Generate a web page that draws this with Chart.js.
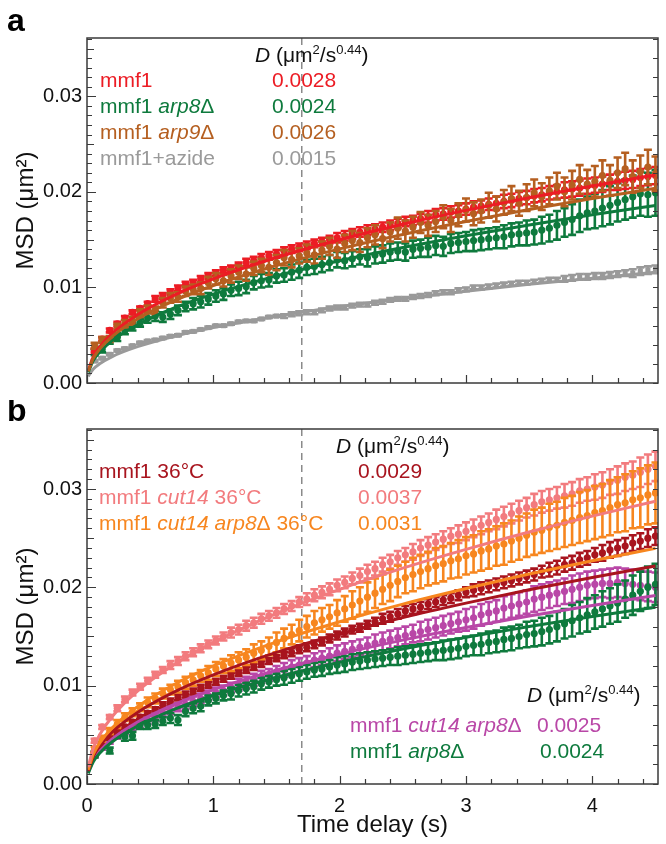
<!DOCTYPE html>
<html>
<head>
<meta charset="utf-8">
<script src="https://cdn.jsdelivr.net/npm/chart.js@4.4.1/dist/chart.umd.min.js"></script>
<style>
  html, body { margin: 0; padding: 0; background: #fff; }
  #wrap { position: relative; width: 666px; height: 844px; }
  canvas { position: absolute; left: 0; }
  #chartA { top: 0; }
  #chartB { top: 400px; }
</style>
</head>
<body>
<div id="wrap">
  <canvas id="chartA" width="666" height="400"></canvas>
  <canvas id="chartB" width="666" height="444"></canvas>
</div>
<script>
const FONT = "'Liberation Sans', Arial, sans-serif";

// Time delays (s) of the MSD points
const TIMES = [
  0.06, 0.12, 0.18, 0.24, 0.30, 0.36, 0.42, 0.48, 0.54, 0.60, 0.66, 0.72, 0.78, 0.84, 0.90,
  0.96, 1.02, 1.08, 1.14, 1.20, 1.26, 1.32, 1.38, 1.44, 1.50, 1.56, 1.62, 1.68, 1.74, 1.80,
  1.86, 1.92, 1.98, 2.04, 2.10, 2.16, 2.22, 2.28, 2.34, 2.40, 2.46, 2.52, 2.58, 2.64, 2.70,
  2.76, 2.82, 2.88, 2.94, 3.00, 3.06, 3.12, 3.18, 3.24, 3.30, 3.36, 3.42, 3.48, 3.54, 3.60,
  3.66, 3.72, 3.78, 3.84, 3.90, 3.96, 4.02, 4.08, 4.14, 4.20, 4.26, 4.32, 4.38, 4.44, 4.50
];
// Times at which the fitted curves are listed
const FIT_TIMES = [0.01, 0.05, 0.1, 0.2, 0.4, 0.7, 1, 1.5, 2, 2.5, 3, 3.5, 4, 4.5];
// Labelled ticks
const X_TICKS = [0, 1, 2, 3, 4];
const Y_TICKS = [0, 0.01, 0.02, 0.03];

// ---- panel a, MSD in 10^-3 um^2 ----
const MMF1 = [
  3.4, 4.6, 5.5, 6.2, 6.8, 7.4, 7.8, 8.3, 8.8, 9.1, 9.5, 9.9, 10.3, 10.5, 10.9,
  11.2, 11.5, 11.8, 12.0, 12.3, 12.6, 12.8, 13.1, 13.3, 13.5, 13.8, 14.0, 14.2, 14.4, 14.6,
  14.8, 15.0, 15.2, 15.4, 15.6, 15.8, 16.0, 16.1, 16.3, 16.5, 16.7, 16.9, 17.0, 17.2, 17.4,
  17.6, 17.7, 17.9, 18.0, 18.2, 18.4, 18.5, 18.7, 18.8, 19.0, 19.1, 19.3, 19.4, 19.6, 19.7,
  19.9, 20.0, 20.2, 20.3, 20.4, 20.6, 20.7, 20.8, 21.0, 21.1, 21.2, 21.3, 21.5, 21.6, 21.7
];
const MMF1_ERR = [
  0.2, 0.2, 0.2, 0.2, 0.2, 0.2, 0.2, 0.2, 0.3, 0.3, 0.3, 0.3, 0.3, 0.3, 0.3,
  0.3, 0.3, 0.3, 0.3, 0.3, 0.4, 0.4, 0.4, 0.4, 0.4, 0.4, 0.4, 0.4, 0.4, 0.4,
  0.4, 0.4, 0.5, 0.5, 0.5, 0.5, 0.5, 0.5, 0.5, 0.5, 0.5, 0.5, 0.5, 0.5, 0.6,
  0.6, 0.6, 0.6, 0.6, 0.6, 0.6, 0.6, 0.6, 0.7, 0.7, 0.7, 0.7, 0.7, 0.7, 0.7,
  0.7, 0.7, 0.8, 0.8, 0.8, 0.8, 0.8, 0.8, 0.8, 0.9, 0.9, 0.9, 0.9, 0.9, 0.9
];
const ARP8 = [
  3.2, 3.5, 4.4, 4.8, 5.5, 5.9, 6.3, 6.8, 7.0, 6.9, 7.2, 7.6, 8.0, 8.3, 8.5,
  8.8, 9.1, 9.3, 9.7, 9.9, 10.1, 10.5, 10.7, 10.8, 11.2, 11.3, 11.6, 11.8, 12.1, 12.2,
  12.4, 12.6, 12.9, 12.8, 13.0, 13.2, 13.1, 13.4, 13.5, 13.7, 13.8, 13.7, 14.0, 14.1, 14.2,
  14.4, 14.3, 14.6, 14.7, 14.8, 14.9, 15.0, 15.1, 15.2, 15.3, 15.5, 15.6, 15.7, 15.8, 16.0,
  16.2, 16.5, 16.8, 17.1, 17.5, 17.8, 18.0, 18.3, 18.6, 18.9, 19.2, 19.5, 19.8, 19.7, 19.9
];
const ARP8_ERR = [
  0.3, 0.3, 0.3, 0.4, 0.4, 0.4, 0.4, 0.5, 0.5, 0.5, 0.5, 0.5, 0.5, 0.6, 0.6,
  0.6, 0.6, 0.6, 0.6, 0.7, 0.7, 0.7, 0.7, 0.7, 0.7, 0.7, 0.8, 0.8, 0.8, 0.8,
  0.8, 0.8, 0.8, 0.8, 0.8, 0.8, 0.9, 0.9, 0.9, 0.9, 0.9, 0.9, 0.9, 0.9, 1.0,
  1.0, 1.0, 1.0, 1.0, 1.0, 1.1, 1.1, 1.1, 1.1, 1.2, 1.2, 1.2, 1.3, 1.3, 1.4,
  1.4, 1.5, 1.5, 1.6, 1.7, 1.7, 1.8, 1.9, 2.0, 2.0, 2.1, 2.2, 2.3, 2.3, 2.4
];
const ARP9 = [
  3.9, 4.5, 4.6, 5.9, 6.2, 6.5, 7.3, 7.7, 7.6, 8.4, 8.9, 9.0, 9.6, 9.8, 9.9,
  10.5, 10.9, 10.7, 11.2, 11.6, 11.4, 12.0, 12.3, 12.1, 12.6, 13.1, 12.9, 13.3, 13.6, 13.4,
  13.9, 14.3, 14.0, 14.6, 14.9, 14.7, 15.2, 15.5, 15.1, 15.8, 16.2, 15.9, 16.3, 16.8, 16.5,
  16.9, 17.4, 17.0, 17.6, 18.1, 17.7, 18.0, 18.6, 18.2, 18.9, 19.3, 18.8, 19.4, 19.9, 19.5,
  20.1, 20.6, 20.0, 20.7, 21.3, 20.8, 21.1, 21.7, 21.2, 22.0, 22.4, 21.6, 22.1, 22.6, 21.9
];
const ARP9_ERR = [
  0.3, 0.3, 0.3, 0.3, 0.4, 0.4, 0.4, 0.4, 0.4, 0.5, 0.5, 0.5, 0.5, 0.5, 0.6,
  0.6, 0.6, 0.6, 0.7, 0.7, 0.7, 0.7, 0.7, 0.8, 0.8, 0.8, 0.8, 0.8, 0.9, 0.9,
  0.9, 0.9, 0.9, 0.9, 1.0, 1.0, 1.0, 1.0, 1.0, 1.0, 1.1, 1.1, 1.1, 1.1, 1.1,
  1.1, 1.2, 1.2, 1.2, 1.2, 1.2, 1.2, 1.3, 1.3, 1.3, 1.3, 1.3, 1.4, 1.4, 1.4,
  1.4, 1.4, 1.5, 1.5, 1.5, 1.5, 1.6, 1.6, 1.6, 1.6, 1.7, 1.7, 1.7, 1.8, 1.8
];
const AZIDE = [
  2.3, 2.6, 3.0, 3.4, 3.6, 3.9, 4.2, 4.4, 4.5, 4.7, 4.9, 5.0, 5.3, 5.4, 5.6,
  5.8, 6.0, 6.0, 6.2, 6.4, 6.5, 6.5, 6.7, 6.9, 7.0, 7.0, 7.2, 7.3, 7.4, 7.4,
  7.6, 7.8, 7.9, 7.9, 8.1, 8.2, 8.2, 8.4, 8.5, 8.7, 8.8, 8.8, 9.0, 9.1, 9.2,
  9.4, 9.5, 9.5, 9.7, 9.8, 10.0, 10.0, 10.1, 10.2, 10.3, 10.4, 10.5, 10.5, 10.6, 10.7,
  10.8, 10.8, 10.9, 11.0, 11.1, 11.1, 11.2, 11.2, 11.3, 11.4, 11.5, 11.5, 11.7, 11.8, 11.9
];
const AZIDE_ERR = [
  0.1, 0.1, 0.1, 0.1, 0.1, 0.1, 0.1, 0.1, 0.1, 0.1, 0.1, 0.1, 0.1, 0.1, 0.1,
  0.1, 0.1, 0.1, 0.1, 0.1, 0.1, 0.1, 0.1, 0.1, 0.1, 0.2, 0.2, 0.2, 0.2, 0.2,
  0.2, 0.2, 0.2, 0.2, 0.2, 0.2, 0.2, 0.2, 0.2, 0.2, 0.2, 0.2, 0.2, 0.2, 0.2,
  0.2, 0.2, 0.2, 0.2, 0.2, 0.2, 0.2, 0.2, 0.2, 0.2, 0.2, 0.2, 0.2, 0.2, 0.2,
  0.2, 0.2, 0.3, 0.3, 0.3, 0.3, 0.3, 0.3, 0.3, 0.3, 0.3, 0.4, 0.4, 0.4, 0.4
];
const MMF1_FIT = [1.31, 2.75, 3.78, 5.2, 7.15, 9.25, 10.9, 13.13, 14.99, 16.61, 18.06, 19.39, 20.62, 21.77];
const ARP8_FIT = [1.12, 2.34, 3.23, 4.44, 6.1, 7.9, 9.3, 11.21, 12.79, 14.17, 15.41, 16.54, 17.6, 18.57];
const ARP9_FIT = [1.22, 2.57, 3.54, 4.87, 6.69, 8.66, 10.2, 12.29, 14.03, 15.54, 16.9, 18.15, 19.3, 20.37];
const AZIDE_FIT = [0.7, 1.46, 2.01, 2.77, 3.8, 4.92, 5.8, 6.99, 7.98, 8.84, 9.61, 10.32, 10.97, 11.58];

// ---- panel b, MSD in 10^-3 um^2 ----
const MMF1_36 = [
  3.0, 4.0, 4.7, 5.3, 5.8, 6.3, 6.8, 7.2, 7.6, 8.0, 8.4, 8.8, 9.1, 9.4, 9.8,
  10.1, 10.4, 10.7, 11.0, 11.3, 11.6, 11.9, 12.2, 12.5, 12.8, 13.1, 13.4, 13.7, 13.9, 14.2,
  14.5, 14.8, 15.1, 15.4, 15.7, 15.9, 16.2, 16.5, 16.8, 17.0, 17.3, 17.6, 17.8, 18.0, 18.3,
  18.5, 18.7, 18.9, 19.2, 19.5, 19.7, 19.9, 20.1, 20.3, 20.5, 20.7, 20.9, 21.1, 21.3, 21.6,
  21.8, 22.0, 22.3, 22.5, 22.8, 23.0, 23.3, 23.5, 23.8, 24.0, 24.2, 24.5, 24.7, 25.0, 25.2
];
const MMF1_36_ERR = [
  0.2, 0.2, 0.2, 0.2, 0.2, 0.2, 0.2, 0.2, 0.2, 0.3, 0.3, 0.3, 0.3, 0.3, 0.3,
  0.3, 0.3, 0.3, 0.3, 0.3, 0.3, 0.3, 0.3, 0.3, 0.3, 0.3, 0.4, 0.4, 0.4, 0.4,
  0.4, 0.4, 0.4, 0.4, 0.4, 0.4, 0.4, 0.4, 0.5, 0.5, 0.5, 0.5, 0.5, 0.5, 0.5,
  0.5, 0.5, 0.5, 0.5, 0.5, 0.6, 0.6, 0.6, 0.6, 0.6, 0.6, 0.6, 0.6, 0.6, 0.6,
  0.7, 0.7, 0.7, 0.7, 0.7, 0.7, 0.7, 0.8, 0.8, 0.8, 0.8, 0.8, 0.8, 0.9, 0.9
];
const CUT14 = [
  4.4, 5.8, 6.8, 7.7, 8.6, 9.3, 9.9, 10.5, 11.1, 11.6, 12.1, 12.5, 13.0, 13.4, 13.8,
  14.2, 14.6, 15.0, 15.4, 15.7, 16.1, 16.4, 16.8, 17.1, 17.4, 17.8, 18.1, 18.5, 18.8, 19.2,
  19.5, 19.8, 20.2, 20.5, 20.9, 21.2, 21.6, 21.9, 22.3, 22.6, 23.0, 23.3, 23.6, 24.0, 24.3,
  24.6, 24.9, 25.2, 25.4, 25.7, 26.0, 26.3, 26.6, 26.9, 27.2, 27.5, 27.8, 28.1, 28.4, 28.7,
  28.9, 29.1, 29.3, 29.5, 29.8, 30.0, 30.2, 30.4, 30.7, 30.9, 31.2, 31.4, 31.7, 32.0, 32.3
];
const CUT14_ERR = [
  0.2, 0.2, 0.2, 0.3, 0.3, 0.3, 0.3, 0.3, 0.3, 0.3, 0.4, 0.4, 0.4, 0.4, 0.4,
  0.4, 0.4, 0.4, 0.5, 0.5, 0.5, 0.5, 0.5, 0.5, 0.5, 0.5, 0.5, 0.5, 0.6, 0.6,
  0.6, 0.6, 0.6, 0.6, 0.6, 0.7, 0.7, 0.7, 0.7, 0.7, 0.7, 0.7, 0.8, 0.8, 0.8,
  0.8, 0.8, 0.8, 0.9, 0.9, 0.9, 0.9, 0.9, 1.0, 1.0, 1.0, 1.0, 1.0, 1.1, 1.1,
  1.1, 1.1, 1.2, 1.2, 1.2, 1.2, 1.3, 1.3, 1.3, 1.4, 1.4, 1.4, 1.5, 1.5, 1.5
];
const CUT14_ARP8 = [
  3.5, 4.6, 5.4, 6.1, 6.8, 7.3, 7.8, 8.3, 8.7, 9.2, 9.6, 9.9, 10.3, 10.6, 11.0,
  11.3, 11.7, 12.0, 12.3, 12.6, 12.9, 13.3, 13.6, 14.0, 14.4, 14.8, 15.2, 15.6, 16.0, 16.4,
  16.7, 17.0, 17.4, 17.8, 18.2, 18.6, 19.0, 19.4, 19.8, 20.2, 20.6, 21.0, 21.3, 21.6, 21.9,
  22.2, 22.4, 22.7, 22.9, 23.2, 23.4, 23.7, 23.9, 24.2, 24.4, 24.7, 25.0, 25.3, 25.6, 25.8,
  26.1, 26.3, 26.6, 26.8, 27.1, 27.3, 27.6, 27.8, 28.1, 28.4, 28.6, 28.9, 29.1, 29.4, 29.6
];
const CUT14_ARP8_ERR = [
  0.3, 0.3, 0.3, 0.4, 0.4, 0.4, 0.4, 0.5, 0.5, 0.5, 0.5, 0.6, 0.6, 0.6, 0.6,
  0.7, 0.7, 0.7, 0.8, 0.8, 0.8, 0.9, 0.9, 0.9, 1.0, 1.0, 1.0, 1.1, 1.1, 1.2,
  1.2, 1.2, 1.3, 1.3, 1.4, 1.4, 1.5, 1.5, 1.5, 1.6, 1.6, 1.6, 1.7, 1.7, 1.7,
  1.8, 1.8, 1.8, 1.9, 1.9, 1.9, 2.0, 2.0, 2.0, 2.1, 2.1, 2.2, 2.2, 2.3, 2.3,
  2.4, 2.4, 2.5, 2.5, 2.6, 2.6, 2.7, 2.7, 2.8, 2.8, 2.9, 2.9, 3.0, 3.0, 3.1
];
const CUT14_ARP8_RT = [
  3.0, 3.8, 4.4, 4.9, 5.4, 5.8, 6.1, 6.5, 6.8, 7.2, 7.5, 7.8, 8.1, 8.4, 8.7,
  9.0, 9.3, 9.5, 9.8, 10.1, 10.3, 10.6, 10.9, 11.1, 11.4, 11.6, 11.9, 12.1, 12.3, 12.6,
  12.8, 13.0, 13.3, 13.5, 13.7, 13.9, 14.1, 14.3, 14.5, 14.7, 14.9, 15.1, 15.3, 15.5, 15.7,
  15.9, 16.1, 16.3, 16.5, 16.7, 16.9, 17.2, 17.4, 17.6, 17.9, 18.1, 18.3, 18.5, 18.8, 19.0,
  19.2, 19.4, 19.6, 19.8, 20.0, 20.2, 20.3, 20.4, 20.4, 20.5, 20.4, 20.3, 20.2, 20.1, 20.0
];
const CUT14_ARP8_RT_ERR = [
  0.3, 0.3, 0.3, 0.3, 0.3, 0.3, 0.4, 0.4, 0.4, 0.4, 0.4, 0.4, 0.5, 0.5, 0.5,
  0.5, 0.5, 0.5, 0.5, 0.6, 0.6, 0.6, 0.6, 0.6, 0.6, 0.7, 0.7, 0.7, 0.7, 0.7,
  0.7, 0.8, 0.8, 0.8, 0.8, 0.8, 0.8, 0.9, 0.9, 0.9, 0.9, 0.9, 0.9, 1.0, 1.0,
  1.0, 1.0, 1.0, 1.0, 1.1, 1.1, 1.1, 1.1, 1.1, 1.2, 1.2, 1.2, 1.2, 1.3, 1.3,
  1.3, 1.3, 1.3, 1.4, 1.4, 1.4, 1.4, 1.4, 1.5, 1.5, 1.5, 1.5, 1.5, 1.5, 1.5
];
const ARP8_RT = [
  3.0, 4.0, 3.4, 5.0, 4.8, 4.9, 6.0, 6.0, 6.1, 6.4, 6.7, 6.5, 7.4, 7.7, 7.9,
  8.5, 8.7, 9.0, 9.2, 9.5, 9.7, 9.9, 10.2, 10.4, 10.6, 10.8, 11.0, 11.2, 11.4, 11.6,
  11.7, 11.9, 12.1, 12.2, 12.4, 12.5, 12.6, 12.7, 12.8, 12.9, 13.0, 13.1, 13.2, 13.3, 13.4,
  13.5, 13.6, 13.7, 13.8, 14.0, 14.1, 14.2, 14.4, 14.5, 14.7, 14.8, 15.0, 15.2, 15.3, 15.5,
  15.7, 16.0, 16.3, 16.6, 16.9, 17.2, 17.5, 17.8, 18.1, 18.4, 18.8, 19.2, 19.6, 20.0, 20.3
];
const ARP8_RT_ERR = [
  0.3, 0.3, 0.3, 0.3, 0.4, 0.4, 0.4, 0.4, 0.4, 0.4, 0.5, 0.5, 0.5, 0.5, 0.5,
  0.5, 0.5, 0.5, 0.6, 0.6, 0.6, 0.6, 0.6, 0.6, 0.6, 0.7, 0.7, 0.7, 0.7, 0.7,
  0.7, 0.7, 0.8, 0.8, 0.8, 0.8, 0.8, 0.8, 0.8, 0.8, 0.9, 0.9, 0.9, 0.9, 0.9,
  0.9, 1.0, 1.0, 1.0, 1.0, 1.0, 1.1, 1.1, 1.1, 1.2, 1.2, 1.2, 1.3, 1.3, 1.4,
  1.4, 1.5, 1.5, 1.6, 1.6, 1.7, 1.7, 1.8, 1.8, 1.9, 1.9, 2.0, 2.0, 2.1, 2.1
];
const MMF1_36_FIT = [1.33, 2.8, 3.85, 5.29, 7.28, 9.42, 11.1, 13.38, 15.26, 16.92, 18.39, 19.75, 21.0, 22.17];
const CUT14_FIT = [1.73, 3.63, 5.0, 6.87, 9.45, 12.23, 14.4, 17.35, 19.8, 21.95, 23.86, 25.62, 27.24, 28.76];
const CUT14_ARP8_FIT = [1.44, 3.02, 4.16, 5.72, 7.87, 10.19, 12.0, 14.46, 16.5, 18.29, 19.88, 21.35, 22.7, 23.96];
const CUT14_ARP8_RT_FIT = [1.15, 2.42, 3.33, 4.58, 6.3, 8.15, 9.6, 11.57, 13.2, 14.63, 15.91, 17.08, 18.16, 19.17];
const ARP8_RT_FIT = [1.08, 2.27, 3.12, 4.29, 5.9, 7.64, 9.0, 10.85, 12.38, 13.72, 14.91, 16.01, 17.03, 17.97];

// axis limits and marker line
const X_MAX = 4.52;
const Y_MAX = 0.0361;
const DASH_T = 1.7;

// colours
const C_RED = '#ec1c24', C_GREEN = '#0e7a3d', C_BROWN = '#b55f20', C_GRAY = '#9a9a9a';
const C_DARKRED = '#a8141e', C_PINK = '#f27b7e', C_ORANGE = '#f7861f', C_MAGENTA = '#b947a7';

// convert 10^-3 um^2 lists into chart points
function pts(times, values) {
  return values.map((v, i) => ({ x: times[i], y: v / 1000 }));
}
function errs(values) {
  return values.map(v => v / 1000);
}

function dataSet(values, errors, color, style) {
  return {
    data: pts(TIMES, values), errors: errs(errors),
    showLine: false, pointRadius: 3.6, pointStyle: style || 'circle',
    backgroundColor: color, borderColor: color, pointBorderWidth: 0
  };
}
function fitSet(values, color) {
  return {
    data: pts(FIT_TIMES, values), showLine: true, pointRadius: 0,
    borderColor: color, borderWidth: 3, cubicInterpolationMode: 'monotone', fill: false
  };
}

// error bars drawn just before each dataset's markers
const errorBars = {
  id: 'errorBars',
  beforeDatasetDraw(chart, args) {
    const ds = chart.data.datasets[args.index];
    if (!ds.errors) return;
    const { ctx, chartArea: a, scales: { x, y } } = chart;
    ctx.save();
    ctx.beginPath();
    ctx.rect(a.left, a.top, a.right - a.left, a.bottom - a.top);
    ctx.clip();
    ctx.strokeStyle = ds.borderColor;
    ctx.lineWidth = 2.6;
    ds.data.forEach((p, i) => {
      const e = ds.errors[i];
      const px = x.getPixelForValue(p.x);
      const y1 = y.getPixelForValue(p.y - e), y2 = y.getPixelForValue(p.y + e);
      ctx.beginPath();
      ctx.moveTo(px, y1); ctx.lineTo(px, y2);
      ctx.moveTo(px - 4, y1); ctx.lineTo(px + 4, y1);
      ctx.moveTo(px - 4, y2); ctx.lineTo(px + 4, y2);
      ctx.stroke();
    });
    ctx.restore();
  }
};

// dashed marker line behind the data
const dashLine = {
  id: 'dashLine',
  beforeDatasetsDraw(chart) {
    const { ctx, chartArea: a, scales: { x } } = chart;
    const px = x.getPixelForValue(DASH_T);
    ctx.save();
    ctx.strokeStyle = '#8a8a8a';
    ctx.lineWidth = 1.5;
    ctx.setLineDash([7, 5]);
    ctx.beginPath();
    ctx.moveTo(px, a.top); ctx.lineTo(px, a.bottom);
    ctx.stroke();
    ctx.restore();
  }
};

// box and inward tick marks
const frame = {
  id: 'frame',
  afterDraw(chart) {
    const { ctx, chartArea: a, scales: { x, y } } = chart;
    ctx.save();
    ctx.strokeStyle = '#3a3a3a';
    ctx.lineWidth = 1.5;
    ctx.strokeRect(a.left, a.top, a.right - a.left, a.bottom - a.top);
    ctx.lineWidth = 1.2;
    ctx.beginPath();
    for (let k = 0; k * 0.001 <= Y_MAX; k++) {
      const py = Math.round(y.getPixelForValue(k * 0.001)) + 0.5;
      const len = k % 10 === 0 ? 9 : (k % 5 === 0 ? 7 : 5);
      ctx.moveTo(a.left, py); ctx.lineTo(a.left + len, py);
      if (k % 2 === 0) { ctx.moveTo(a.right, py); ctx.lineTo(a.right - 5, py); }
    }
    for (let k = 0; k * 0.2 <= X_MAX; k++) {
      const px = Math.round(x.getPixelForValue(k * 0.2)) + 0.5;
      const len = k % 5 === 0 ? 8 : 5;
      ctx.moveTo(px, a.bottom); ctx.lineTo(px, a.bottom - len);
    }
    ctx.stroke();
    ctx.restore();
  }
};

// mixed-style text lines (legends, panel letters)
function drawRuns(ctx, x, y, runs, color, size) {
  let cx = x;
  ctx.fillStyle = color;
  ctx.textBaseline = 'alphabetic';
  ctx.textAlign = 'left';
  runs.forEach(([text, style]) => {
    const sup = style === 'sup';
    const fs = sup ? size * 0.62 : size;
    const pre = style === 'i' ? 'italic ' : (style === 'b' ? 'bold ' : '');
    ctx.font = pre + fs + 'px ' + FONT;
    ctx.fillText(text, cx, sup ? y - size * 0.38 : y);
    cx += ctx.measureText(text).width;
  });
}
const textItems = {
  id: 'textItems',
  afterDraw(chart, args, opts) {
    const ctx = chart.ctx;
    ctx.save();
    (opts.items || []).forEach(it => drawRuns(ctx, it.x, it.y, it.runs, it.color, it.size || 21));
    ctx.restore();
  }
};

const HEADER = [['D', 'i'], [' (\u03bcm', 'n'], ['2', 'sup'], ['/s', 'n'], ['0.44', 'sup'], [')', 'n']];

function baseOptions(padTop, xHeight, showX, items) {
  return {
    responsive: false,
    animation: false,
    layout: { padding: { top: padTop, right: 8, left: 0, bottom: 0 } },
    plugins: {
      legend: { display: false },
      tooltip: { enabled: false },
      textItems: { items }
    },
    scales: {
      x: {
        type: 'linear', min: 0, max: X_MAX,
        grid: { display: false, drawTicks: false },
        border: { display: false },
        ticks: { display: showX, autoSkip: false, maxRotation: 0, padding: 10, color: '#111', font: { family: FONT, size: 20 } },
        afterBuildTicks: s => { s.ticks = X_TICKS.map(v => ({ value: v })); },
        title: { display: showX, text: 'Time delay (s)', color: '#111', font: { family: FONT, size: 24 }, padding: { top: 0, bottom: 4 } },
        afterFit: s => { s.height = xHeight; }
      },
      y: {
        min: 0, max: Y_MAX,
        grid: { display: false, drawTicks: false },
        border: { display: false },
        ticks: { autoSkip: false, padding: 5, color: '#111', font: { family: FONT, size: 20 }, callback: v => v.toFixed(2) },
        afterBuildTicks: s => { s.ticks = Y_TICKS.map(v => ({ value: v })); },
        title: { display: true, text: 'MSD (\u03bcm\u00b2)', color: '#111', font: { family: FONT, size: 24 }, padding: { top: 12, bottom: 0 } },
        afterFit: s => { s.width = 87; }
      }
    }
  };
}

const plugins = [errorBars, dashLine, frame, textItems];

new Chart(document.getElementById('chartA'), {
  type: 'scatter',
  data: {
    datasets: [
      fitSet(ARP9_FIT, C_BROWN),
      fitSet(MMF1_FIT, C_RED),
      fitSet(ARP8_FIT, C_GREEN),
      fitSet(AZIDE_FIT, C_GRAY),
      dataSet(ARP9, ARP9_ERR, C_BROWN),
      dataSet(MMF1, MMF1_ERR, C_RED),
      dataSet(ARP8, ARP8_ERR, C_GREEN),
      dataSet(AZIDE, AZIDE_ERR, C_GRAY, 'rect')
    ]
  },
  options: baseOptions(38, 8, false, [
    { x: 7, y: 31, runs: [['a', 'b']], color: '#000', size: 32 },
    { x: 255, y: 62, runs: HEADER, color: '#111' },
    { x: 100, y: 87, runs: [['mmf1', 'n']], color: C_RED },
    { x: 272, y: 87, runs: [['0.0028', 'n']], color: C_RED },
    { x: 100, y: 113, runs: [['mmf1 ', 'n'], ['arp8', 'i'], ['\u0394', 'n']], color: C_GREEN },
    { x: 272, y: 113, runs: [['0.0024', 'n']], color: C_GREEN },
    { x: 100, y: 139, runs: [['mmf1 ', 'n'], ['arp9', 'i'], ['\u0394', 'n']], color: C_BROWN },
    { x: 272, y: 139, runs: [['0.0026', 'n']], color: C_BROWN },
    { x: 100, y: 165, runs: [['mmf1+azide', 'n']], color: C_GRAY },
    { x: 272, y: 165, runs: [['0.0015', 'n']], color: C_GRAY }
  ]),
  plugins
});

new Chart(document.getElementById('chartB'), {
  type: 'scatter',
  data: {
    datasets: [
      fitSet(CUT14_FIT, C_PINK),
      fitSet(CUT14_ARP8_FIT, C_ORANGE),
      fitSet(MMF1_36_FIT, C_DARKRED),
      fitSet(ARP8_RT_FIT, C_GREEN),
      fitSet(CUT14_ARP8_RT_FIT, C_MAGENTA),
      dataSet(CUT14_ARP8, CUT14_ARP8_ERR, C_ORANGE),
      dataSet(CUT14, CUT14_ERR, C_PINK),
      dataSet(MMF1_36, MMF1_36_ERR, C_DARKRED),
      dataSet(ARP8_RT, ARP8_RT_ERR, C_GREEN),
      dataSet(CUT14_ARP8_RT, CUT14_ARP8_RT_ERR, C_MAGENTA)
    ]
  },
  options: baseOptions(29, 60, true, [
    { x: 7, y: 21, runs: [['b', 'b']], color: '#000', size: 32 },
    { x: 336, y: 53, runs: HEADER, color: '#111' },
    { x: 99, y: 78, runs: [['mmf1 36\u00b0C', 'n']], color: C_DARKRED },
    { x: 358, y: 78, runs: [['0.0029', 'n']], color: C_DARKRED },
    { x: 99, y: 104, runs: [['mmf1 ', 'n'], ['cut14', 'i'], [' 36\u00b0C', 'n']], color: C_PINK },
    { x: 358, y: 104, runs: [['0.0037', 'n']], color: C_PINK },
    { x: 99, y: 130, runs: [['mmf1 ', 'n'], ['cut14 arp8', 'i'], ['\u0394 36\u00b0C', 'n']], color: C_ORANGE },
    { x: 358, y: 130, runs: [['0.0031', 'n']], color: C_ORANGE },
    { x: 527, y: 302, runs: HEADER, color: '#111' },
    { x: 350, y: 332, runs: [['mmf1 ', 'n'], ['cut14 arp8', 'i'], ['\u0394', 'n']], color: C_MAGENTA },
    { x: 537, y: 332, runs: [['0.0025', 'n']], color: C_MAGENTA },
    { x: 350, y: 358, runs: [['mmf1 ', 'n'], ['arp8', 'i'], ['\u0394', 'n']], color: C_GREEN },
    { x: 540, y: 358, runs: [['0.0024', 'n']], color: C_GREEN }
  ]),
  plugins
});
</script>
</body>
</html>
